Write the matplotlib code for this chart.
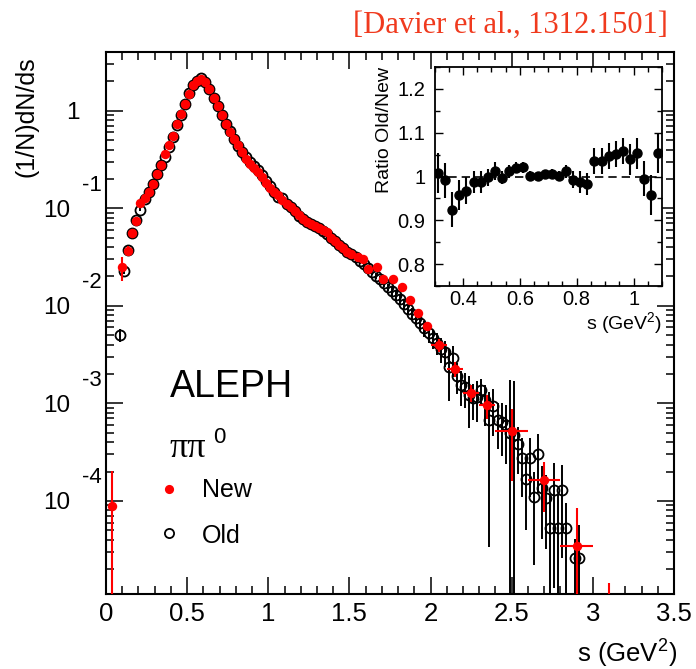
import numpy as np
import matplotlib
matplotlib.use("Agg")
import matplotlib.pyplot as plt
from matplotlib.lines import Line2D
from matplotlib.ticker import FixedLocator, FixedFormatter, MultipleLocator, LogLocator, NullFormatter
from matplotlib.transforms import blended_transform_factory, ScaledTranslation

plt.rcParams['font.family'] = ['Liberation Sans', 'DejaVu Sans']
plt.rcParams['mathtext.fontset'] = 'custom'
plt.rcParams['mathtext.rm'] = 'Liberation Sans'
plt.rcParams['mathtext.it'] = 'Liberation Sans'

# ---- new ALEPH spectrum (red), values as log10((1/N)dN/ds) ----
new_s = np.array([
    0.0375, 0.1000, 0.1375,
    0.1625, 0.1875, 0.2125, 0.2375, 0.2625, 0.2875, 0.3125, 0.3375, 0.3625, 0.3875,
    0.4125, 0.4375, 0.4625, 0.4875, 0.5125, 0.5375, 0.5625, 0.5875, 0.6125, 0.6375,
    0.6625, 0.6875, 0.7125, 0.7375, 0.7625, 0.7875, 0.8125, 0.8375, 0.8625, 0.8875,
    0.9125, 0.9375, 0.9625, 0.9875, 1.0125, 1.0375, 1.0625, 1.0875, 1.1125, 1.1375,
    1.1625, 1.1875, 1.2125, 1.2375, 1.2625, 1.2875, 1.3125, 1.3375, 1.3625, 1.3875,
    1.4125, 1.4375, 1.4625, 1.4875, 1.5125,
    1.555, 1.585, 1.616, 1.668, 1.709, 1.770, 1.822, 1.873, 1.924, 1.976,
    2.05, 2.15, 2.25, 2.35, 2.50, 2.70, 2.90, 3.10])
new_log10y = np.array([
    -4.056, -1.607, -1.436,
    -1.254, -1.127, -0.950, -0.897, -0.829, -0.750, -0.647, -0.555, -0.440, -0.350,
    -0.260, -0.140, -0.035, 0.070, 0.175, 0.265, 0.300, 0.322, 0.290, 0.222,
    0.135, 0.045, -0.045, -0.135, -0.215, -0.290, -0.355, -0.420, -0.490, -0.545,
    -0.590, -0.632, -0.680, -0.740, -0.790, -0.830, -0.865, -0.920, -0.960, -0.985,
    -1.030, -1.070, -1.110, -1.140, -1.165, -1.180, -1.200, -1.225, -1.240, -1.300,
    -1.340, -1.375, -1.410, -1.445, -1.470,
    -1.504, -1.521, -1.624, -1.606, -1.727, -1.730, -1.812, -1.945, -2.072, -2.208,
    -2.405, -2.645, -2.891, -3.022, -3.286, -3.782, -4.460, -5.500])
new_rel_err = np.array([
    1.28, 0.27, 0.12,
    0.06, 0.04, 0.02, 0.02, 0.02, 0.02, 0.02, 0.02, 0.02, 0.02,
    0.02, 0.02, 0.02, 0.02, 0.02, 0.02, 0.02, 0.02, 0.02, 0.02,
    0.02, 0.02, 0.02, 0.02, 0.02, 0.02, 0.02, 0.02, 0.02, 0.02,
    0.02, 0.02, 0.02, 0.02, 0.02, 0.02, 0.02, 0.02, 0.02, 0.02,
    0.02, 0.02, 0.02, 0.02, 0.02, 0.02, 0.02, 0.02, 0.02, 0.02,
    0.02, 0.02, 0.02, 0.02, 0.02,
    0.05, 0.05, 0.05, 0.05, 0.06, 0.06, 0.06, 0.07, 0.08, 0.08,
    0.15, 0.18, 0.20, 0.27, 0.69, 0.53, 1.44, 3.50])
new_xerr = np.array([0.0] * 68 + [0.05, 0.05, 0.05, 0.05, 0.10, 0.10, 0.10, 0.10])

# ---- old ALEPH spectrum (open circles) ----
old_s = np.array([
    0.0875, 0.1125, 0.1375, 0.1625, 0.1875, 0.2125, 0.2375, 0.2625, 0.2875,
    0.3125, 0.3375, 0.3625, 0.3875, 0.4125, 0.4375, 0.4625, 0.4875, 0.5125, 0.5375,
    0.5625, 0.5875, 0.6125, 0.6375, 0.6625, 0.6875, 0.7125, 0.7375, 0.7625, 0.7875,
    0.8125, 0.8375, 0.8625, 0.8875, 0.9125, 0.9375, 0.9625, 0.9875, 1.0125, 1.0375,
    1.0625, 1.0875, 1.1125, 1.1375, 1.1625, 1.1875, 1.2125, 1.2375, 1.2625, 1.2875,
    1.3125, 1.3375, 1.3625, 1.3875, 1.4125, 1.4375, 1.4625, 1.4875,
    1.5125, 1.5375, 1.5625, 1.5875, 1.6125, 1.6375, 1.6625, 1.6875, 1.7125, 1.7375,
    1.7625, 1.7875, 1.8125, 1.8375, 1.8625, 1.8875, 1.9125, 1.9375, 1.9625, 1.9875,
    2.0125, 2.0375, 2.0625, 2.0875, 2.1125, 2.1375, 2.1625, 2.1875, 2.2125, 2.2375,
    2.2625, 2.2875, 2.3125, 2.3375, 2.3625, 2.3875, 2.4125, 2.4375, 2.4625, 2.4875,
    2.5125, 2.5375, 2.5625, 2.5875, 2.6125, 2.6375, 2.6625, 2.6875, 2.7125, 2.7375,
    2.7625, 2.7875, 2.8125, 2.8375, 2.8875, 2.9125])
old_log10y = np.array([
    -2.300, -1.641, -1.430, -1.250, -1.120, -1.014, -0.900, -0.830, -0.752,
    -0.645, -0.559, -0.474, -0.368, -0.274, -0.146, -0.041, 0.069, 0.180, 0.264,
    0.305, 0.331, 0.299, 0.222, 0.135, 0.047, -0.042, -0.135, -0.210, -0.293,
    -0.361, -0.428, -0.475, -0.530, -0.570, -0.610, -0.656, -0.723, -0.768, -0.832,
    -0.884, -0.898, -0.955, -0.990, -1.030, -1.075, -1.110, -1.140, -1.160, -1.185,
    -1.205, -1.230, -1.260, -1.300, -1.335, -1.375, -1.410, -1.445,
    -1.47, -1.50, -1.54, -1.57, -1.61, -1.65, -1.69, -1.73, -1.77, -1.81,
    -1.85, -1.89, -1.93, -1.98, -2.03, -2.08, -2.13, -2.18, -2.23, -2.28,
    -2.33, -2.38, -2.44, -2.47, -2.63, -2.54, -2.72, -2.81, -2.83, -2.91,
    -2.95, -2.93, -2.86, -2.97, -3.17, -3.03, -3.17, -3.19, -3.22, -3.30,
    -3.32, -3.42, -3.56, -3.78, -3.56, -3.96, -3.52, -3.87, -3.97, -4.28,
    -3.89, -4.28, -3.89, -4.28, -4.59, -4.59])
old_rel_err = np.array([
    0.16, 0.08, 0.05, 0.04, 0.03, 0.03, 0.02, 0.02, 0.02,
    0.02, 0.02, 0.02, 0.02, 0.02, 0.02, 0.02, 0.02, 0.02, 0.02,
    0.02, 0.02, 0.02, 0.02, 0.02, 0.02, 0.02, 0.02, 0.02, 0.02,
    0.02, 0.02, 0.02, 0.02, 0.02, 0.02, 0.02, 0.02, 0.02, 0.02,
    0.02, 0.02, 0.02, 0.02, 0.02, 0.02, 0.02, 0.02, 0.02, 0.02,
    0.03, 0.03, 0.03, 0.03, 0.03, 0.04, 0.04, 0.04,
    0.06, 0.06, 0.06, 0.06, 0.06, 0.07, 0.07, 0.08, 0.08, 0.09,
    0.10, 0.10, 0.12, 0.12, 0.13, 0.14, 0.15, 0.16, 0.18, 0.20,
    0.22, 0.25, 0.28, 0.30, 0.55, 0.35, 0.35, 0.40, 0.40, 0.55,
    0.40, 0.45, 0.30, 0.45, 0.95, 0.50, 0.50, 0.55, 0.60, 2.50,
    2.50, 0.50, 0.60, 0.70, 0.60, 0.80, 0.60, 0.70, 0.70, 1.20,
    0.90, 1.20, 0.80, 0.80, 0.60, 1.20])

# ---- inset: ratio old/new ----
ratio_s = np.array([
    0.3125, 0.3375, 0.3625, 0.3875, 0.4125, 0.4375, 0.4625, 0.4875, 0.5125, 0.5375,
    0.5625, 0.5875, 0.6125, 0.6375, 0.6625, 0.6875, 0.7125, 0.7375, 0.7625, 0.7875,
    0.8125, 0.8375, 0.8625, 0.8875, 0.9125, 0.9375, 0.9625, 0.9875, 1.0125, 1.0375,
    1.0625, 1.0875])
ratio = np.array([
    1.008, 0.991, 0.924, 0.958, 0.968, 0.987, 0.987, 0.998, 1.012, 0.997,
    1.012, 1.020, 1.021, 1.001, 1.001, 1.005, 1.006, 1.001, 1.012, 0.993,
    0.987, 0.982, 1.035, 1.035, 1.047, 1.051, 1.058, 1.039, 1.053, 0.995,
    0.958, 1.053])
ratio_err = np.array([
    0.045, 0.040, 0.040, 0.035, 0.030, 0.025, 0.025, 0.020, 0.020, 0.015,
    0.015, 0.012, 0.012, 0.012, 0.010, 0.010, 0.010, 0.012, 0.015, 0.020,
    0.025, 0.025, 0.030, 0.030, 0.030, 0.030, 0.030, 0.035, 0.035, 0.040,
    0.045, 0.045])

y_major = [1e-4, 1e-3, 1e-2, 1e-1, 1.0]
x_major = [0, 0.5, 1.0, 1.5, 2.0, 2.5, 3.0, 3.5]
x_major_labels = ['0', '0.5', '1', '1.5', '2', '2.5', '3', '3.5']
inset_y_ticks = [0.8, 0.9, 1.0, 1.1, 1.2]
inset_y_labels = ['0.8', '0.9', '1', '1.1', '1.2']
inset_x_ticks = [0.4, 0.6, 0.8, 1.0]
inset_x_labels = ['0.4', '0.6', '0.8', '1']

W, H = 696, 669
fig = plt.figure(figsize=(W / 100, H / 100), dpi=100)


def fx(px):
    return px / W


def fy(py):
    return 1 - py / H


RED = '#ff0000'

ax = fig.add_axes([fx(106), fy(594), 568 / W, 542 / H])
ax.set_yscale('log')
ax.set_xlim(0, 3.5)
ax.set_ylim(1.11e-5, 4.0)

old_y = 10 ** old_log10y
new_y = 10 ** new_log10y
ax.errorbar(old_s, old_y, yerr=old_rel_err * old_y, fmt='o', ms=7.2,
            mfc='none', mec='black', mew=1.3, ecolor='black',
            elinewidth=1.4, capsize=0, zorder=2)
ax.errorbar(new_s, new_y, xerr=new_xerr, yerr=new_rel_err * new_y, fmt='o',
            ms=6.8, mfc=RED, mec=RED, mew=0, ecolor=RED,
            elinewidth=1.5, capsize=0, zorder=3)

ax.xaxis.set_major_locator(FixedLocator(x_major))
ax.xaxis.set_minor_locator(MultipleLocator(0.1))
ax.xaxis.set_major_formatter(FixedFormatter(x_major_labels))
ax.yaxis.set_major_locator(FixedLocator(y_major))
ax.yaxis.set_minor_locator(LogLocator(base=10, subs=np.arange(2, 10)))
ax.yaxis.set_major_formatter(NullFormatter())
ax.yaxis.set_minor_formatter(NullFormatter())
ax.tick_params(which='both', direction='in', top=True, right=True, width=1.1)
ax.tick_params(which='major', length=12)
ax.tick_params(which='minor', length=6)
ax.tick_params(axis='x', which='major', labelsize=18.5, pad=6)
for sp in ax.spines.values():
    sp.set_linewidth(1.5)

# y tick labels in ROOT style: 10 with superscript exponent
lab_tr = blended_transform_factory(fig.transFigure, ax.transData)
down = ScaledTranslation(0, -0.085, fig.dpi_scale_trans)
up = ScaledTranslation(0, 0.175, fig.dpi_scale_trans)
for v in y_major:
    e = int(round(np.log10(v)))
    if e == 0:
        ax.text(fx(80), v, '1', transform=lab_tr + down, ha='right',
                va='baseline', fontsize=17.5)
    else:
        ax.text(fx(70), v, '10', transform=lab_tr + down, ha='right',
                va='baseline', fontsize=17.5)
        ax.text(fx(102), v, '-%d' % (-e), transform=lab_tr + up, ha='right',
                va='baseline', fontsize=16)

fig.text(fx(27), fy(56), '(1/N)dN/ds', rotation=90, ha='center', va='top',
         fontsize=18)
fig.text(fx(677), fy(654), 's (GeV$^{2}$)', ha='right', va='center',
         fontsize=18.5)

# labels and legend
fig.text(fx(170), fy(397), 'ALEPH', fontsize=27, ha='left', va='baseline')
fig.text(fx(169), fy(457), 'ππ', fontsize=26, family='Liberation Serif',
         ha='left', va='baseline')
fig.text(fx(213), fy(443), '0', fontsize=16, ha='left', va='baseline')
fig.add_artist(Line2D([fx(169.3)], [fy(489.3)], marker='o', ms=6.6,
                      mfc=RED, mec=RED, mew=0, ls='none'))
fig.add_artist(Line2D([fx(169.3)], [fy(532.7)], marker='o', ms=6.6,
                      mfc='none', mec='black', mew=1.3, ls='none'))
fig.text(fx(201.7), fy(496.7), 'New', fontsize=18, ha='left', va='baseline')
fig.text(fx(201.7), fy(543.3), 'Old', fontsize=18, ha='left', va='baseline')

fig.text(fx(668), fy(25), '[Davier et al., 1312.1501]', ha='right',
         va='center', fontsize=22, family='Liberation Serif', color='#f03a1e')

# inset
axi = fig.add_axes([fx(434.5), fy(286), 227.5 / W, 219 / H])
axi.set_facecolor('white')
axi.set_xlim(0.3, 1.1)
axi.set_ylim(0.75, 1.25)
axi.axhline(1.0, color='black', lw=1.2, ls=(0, (5, 3)), zorder=1)
axi.errorbar(ratio_s, ratio, yerr=ratio_err, fmt='o', ms=6.5, color='black',
             ecolor='black', elinewidth=1.5, capsize=0, zorder=3)
axi.xaxis.set_major_locator(FixedLocator(inset_x_ticks))
axi.xaxis.set_major_formatter(FixedFormatter(inset_x_labels))
axi.xaxis.set_minor_locator(MultipleLocator(0.05))
axi.yaxis.set_major_locator(FixedLocator(inset_y_ticks))
axi.yaxis.set_major_formatter(FixedFormatter(inset_y_labels))
axi.yaxis.set_minor_locator(MultipleLocator(0.05))
axi.tick_params(which='both', direction='in', top=True, right=True, width=1.0,
                labelsize=14.5)
axi.tick_params(which='major', length=6)
axi.tick_params(which='minor', length=3.5)
axi.tick_params(axis='y', pad=6.5)
axi.tick_params(axis='x', pad=3)
for sp in axi.spines.values():
    sp.set_linewidth(1.3)
fig.text(fx(385), fy(67), 'Ratio Old/New', rotation=90, ha='center', va='top',
         fontsize=14)
fig.text(fx(662), fy(323), 's (GeV$^{2}$)', ha='right', va='center',
         fontsize=14)

fig.savefig('out.png', dpi=100)
